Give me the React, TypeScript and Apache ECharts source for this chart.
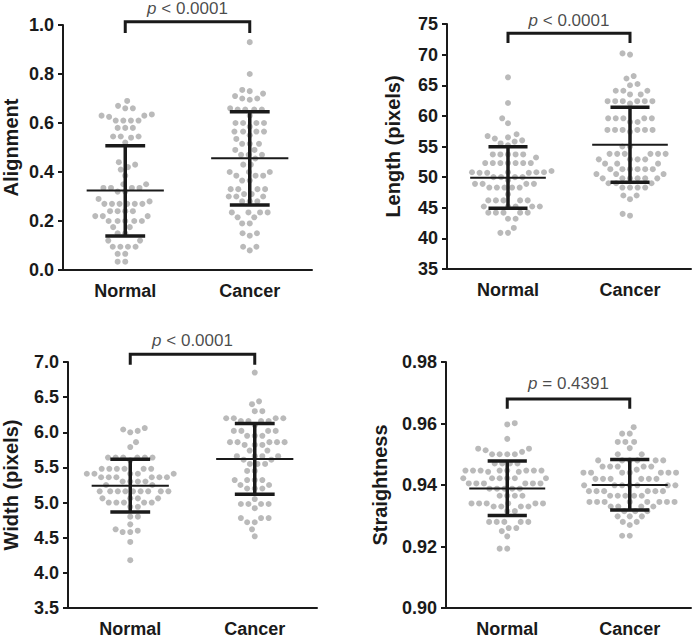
import React, { useEffect, useRef } from "react";
import * as echarts from "echarts";

const categories = ["Normal", "Cancer"];

// Panel 1: Alignment
const alignNormal = [0.69, 0.67, 0.66, 0.66, 0.635, 0.63, 0.625, 0.63, 0.61, 0.61, 0.61, 0.61, 0.58, 0.58, 0.58, 0.545, 0.545, 0.545, 0.54, 0.52, 0.44, 0.43, 0.42, 0.41, 0.385, 0.35, 0.35, 0.335, 0.335, 0.335, 0.335, 0.32, 0.32, 0.29, 0.28, 0.27, 0.27, 0.27, 0.27, 0.27, 0.27, 0.24, 0.24, 0.24, 0.24, 0.22, 0.22, 0.22, 0.2, 0.2, 0.2, 0.2, 0.2, 0.175, 0.175, 0.15, 0.15, 0.12, 0.12, 0.095, 0.095, 0.095, 0.095, 0.066, 0.066, 0.034, 0.034];
const alignCancer = [0.93, 0.8, 0.735, 0.73, 0.72, 0.71, 0.7, 0.7, 0.695, 0.66, 0.655, 0.655, 0.655, 0.655, 0.63, 0.6, 0.6, 0.6, 0.6, 0.585, 0.565, 0.565, 0.565, 0.565, 0.55, 0.535, 0.515, 0.515, 0.515, 0.49, 0.49, 0.47, 0.47, 0.47, 0.455, 0.43, 0.43, 0.4, 0.4, 0.4, 0.385, 0.385, 0.385, 0.365, 0.365, 0.33, 0.33, 0.33, 0.33, 0.31, 0.31, 0.3, 0.3, 0.3, 0.28, 0.28, 0.28, 0.235, 0.235, 0.235, 0.235, 0.215, 0.215, 0.19, 0.19, 0.15, 0.15, 0.14, 0.095, 0.095, 0.08];
const alignStats = [[0.324, 0.139, 0.507], [0.456, 0.265, 0.646]]; // mean, mean-SD, mean+SD

// Panel 2: Length (pixels)
const lengthNormal = [66.3, 62.1, 59.6, 58.8, 57.0, 56.7, 56.5, 56.3, 56.0, 55.8, 55.5, 55.2, 53.7, 53.7, 53.7, 53.7, 53.7, 53.2, 52.3, 52.3, 52.3, 52.3, 52.3, 52.3, 52.3, 51.0, 50.8, 50.8, 50.8, 50.8, 50.7, 50.7, 50.7, 50.0, 50.0, 50.0, 50.0, 49.5, 48.9, 48.9, 48.9, 48.9, 48.3, 48.3, 48.3, 48.3, 48.3, 47.2, 46.2, 46.2, 46.2, 46.2, 46.2, 45.2, 45.2, 45.2, 45.2, 45.2, 44.2, 44.2, 44.2, 44.2, 44.2, 43.2, 43.2, 41.7, 40.9, 40.9];
const lengthCancer = [70.2, 70.0, 66.5, 66.1, 65.2, 65.0, 64.1, 64.1, 64.1, 63.5, 63.5, 62.4, 62.4, 62.4, 62.4, 62.4, 62.4, 62.0, 59.6, 59.6, 59.6, 59.6, 59.6, 59.0, 59.0, 57.7, 57.7, 57.7, 57.7, 57.7, 57.7, 57.4, 55.0, 55.0, 53.8, 53.8, 53.8, 53.8, 53.8, 53.8, 52.9, 52.9, 52.9, 52.9, 52.2, 52.2, 52.2, 51.3, 51.3, 51.3, 51.3, 51.3, 51.3, 50.5, 50.5, 50.5, 49.8, 49.8, 49.8, 49.8, 49.8, 49.8, 49.0, 49.0, 49.0, 48.3, 48.3, 48.3, 48.3, 47.0, 47.0, 46.4, 44.0, 43.7];
const lengthStats = [[49.9, 44.9, 54.95], [55.3, 49.15, 61.4]];

// Panel 3: Width (pixels)
const widthNormal = [6.06, 6.04, 6.02, 6.0, 5.86, 5.79, 5.64, 5.64, 5.64, 5.64, 5.64, 5.64, 5.6, 5.48, 5.48, 5.48, 5.48, 5.48, 5.48, 5.41, 5.41, 5.41, 5.41, 5.41, 5.36, 5.36, 5.36, 5.36, 5.36, 5.36, 5.3, 5.3, 5.3, 5.3, 5.25, 5.25, 5.16, 5.16, 5.16, 5.16, 5.16, 5.16, 5.16, 5.16, 5.16, 5.06, 5.06, 5.06, 5.06, 5.0, 5.0, 5.0, 5.0, 5.0, 4.94, 4.94, 4.8, 4.8, 4.69, 4.58, 4.58, 4.6, 4.62, 4.44, 4.18];
const widthCancer = [6.85, 6.44, 6.4, 6.3, 6.3, 6.2, 6.2, 6.2, 6.2, 6.16, 6.16, 6.16, 6.16, 6.1, 6.02, 6.02, 6.02, 6.02, 5.95, 5.95, 5.95, 5.86, 5.86, 5.86, 5.86, 5.86, 5.82, 5.82, 5.82, 5.74, 5.74, 5.66, 5.66, 5.66, 5.66, 5.61, 5.61, 5.55, 5.55, 5.55, 5.45, 5.45, 5.32, 5.32, 5.32, 5.32, 5.25, 5.25, 5.2, 5.2, 5.2, 5.05, 4.98, 4.98, 4.98, 4.98, 4.92, 4.78, 4.78, 4.78, 4.72, 4.72, 4.62, 4.52];
const widthStats = [[5.24, 4.865, 5.615], [5.62, 5.12, 6.125]];

// Panel 4: Straightness
const straightNormal = [0.9601, 0.9597, 0.955, 0.9518, 0.9518, 0.9513, 0.9508, 0.95, 0.95, 0.95, 0.95, 0.947, 0.947, 0.947, 0.947, 0.9447, 0.9447, 0.9447, 0.9447, 0.9447, 0.9447, 0.9447, 0.9447, 0.9443, 0.9443, 0.9422, 0.9422, 0.9422, 0.9422, 0.9422, 0.9422, 0.9405, 0.9405, 0.9405, 0.9405, 0.9405, 0.9405, 0.9388, 0.9388, 0.9388, 0.9388, 0.9388, 0.9365, 0.9365, 0.9365, 0.9365, 0.934, 0.934, 0.934, 0.934, 0.934, 0.934, 0.933, 0.933, 0.933, 0.933, 0.9315, 0.9315, 0.928, 0.928, 0.928, 0.928, 0.928, 0.926, 0.926, 0.925, 0.9233, 0.9193, 0.9193];
const straightCancer = [0.9588, 0.9567, 0.9567, 0.954, 0.954, 0.954, 0.952, 0.95, 0.95, 0.948, 0.948, 0.948, 0.948, 0.948, 0.948, 0.946, 0.946, 0.946, 0.946, 0.946, 0.945, 0.944, 0.944, 0.944, 0.944, 0.944, 0.944, 0.944, 0.942, 0.942, 0.942, 0.942, 0.942, 0.942, 0.9399, 0.9399, 0.9399, 0.9399, 0.9399, 0.9399, 0.9399, 0.938, 0.938, 0.938, 0.938, 0.938, 0.938, 0.9365, 0.9365, 0.9365, 0.9365, 0.9365, 0.9345, 0.9345, 0.9345, 0.9345, 0.9345, 0.9345, 0.9345, 0.9345, 0.933, 0.933, 0.933, 0.933, 0.9315, 0.9315, 0.9315, 0.9298, 0.9298, 0.9298, 0.928, 0.928, 0.927, 0.9235, 0.9235];
const straightStats = [[0.9389, 0.9301, 0.9478], [0.940, 0.9319, 0.9483]];

const axisNames = ["Alignment", "Length (pixels)", "Width (pixels)", "Straightness"];
const yMins = [0, 35, 3.5, 0.9];
const yMaxs = [1.0, 75, 7.0, 0.98];
const yIntervals = [0.2, 5, 0.5, 0.02];
const yDecimals = [1, 0, 1, 2];
const pLabels = ["< 0.0001", "< 0.0001", "< 0.0001", "= 0.4391"];
// bracket: [low end, top], label y
const bracketLow = [0.967, 71.9, 6.96, 0.9648];
const bracketTop = [1.013, 73.5, 7.11, 0.968];
const pLabelY = [1.066, 75.5, 7.30, 0.9729];

const panels = [
  { normal: alignNormal, cancer: alignCancer, stats: alignStats },
  { normal: lengthNormal, cancer: lengthCancer, stats: lengthStats },
  { normal: widthNormal, cancer: widthCancer, stats: widthStats },
  { normal: straightNormal, cancer: straightCancer, stats: straightStats },
];

const grids = [
  { left: 63, top: 25, width: 249, height: 245 },
  { left: 447, top: 24, width: 244, height: 245 },
  { left: 68, top: 362, width: 249, height: 248 },
  { left: 446, top: 362, width: 245, height: 248 },
];
const nameGaps = [42, 44, 47, 56];

const FONT = "'Liberation Sans', Arial, sans-serif";
const INK = "#1a1a1a";
const DOT = "#a9a9a9";

// beeswarm layout in pixel space, returns x offsets in px
function swarm(values: number[], pxPerY: number, d: number): number[] {
  const order = values.map((_, i) => i).sort((a, b) => values[a] - values[b]);
  const placed: { x: number; y: number }[] = [];
  const xs = new Array(values.length).fill(0);
  let side = 1;
  for (const i of order) {
    const y = values[i] * pxPerY;
    const near = placed.filter((p) => Math.abs(p.y - y) < d);
    const cands = [0];
    for (const p of near) {
      const dx = Math.sqrt(d * d - (p.y - y) * (p.y - y));
      cands.push(p.x + dx, p.x - dx);
    }
    cands.sort((a, b) => Math.abs(a) - Math.abs(b) || (b - a) * side);
    let chosen = 0;
    for (const c of cands) {
      if (near.every((p) => (p.x - c) ** 2 + (p.y - y) ** 2 >= d * d - 1e-6)) {
        chosen = c;
        break;
      }
    }
    side = -side;
    xs[i] = chosen;
    placed.push({ x: chosen, y });
  }
  return xs;
}

function buildOption() {
  const xAxis: any[] = [];
  const yAxis: any[] = [];
  const series: any[] = [];
  panels.forEach((pn, k) => {
    const g = grids[k];
    xAxis.push({
      type: "category",
      gridIndex: k,
      data: categories,
      axisLine: { onZero: false, lineStyle: { color: INK, width: 2 } },
      axisTick: { alignWithLabel: true, length: 5, lineStyle: { color: INK, width: 2 } },
      axisLabel: { color: INK, fontSize: 18, fontWeight: "bold", fontFamily: FONT, margin: 12 },
      splitLine: { show: false },
    });
    xAxis.push({ type: "value", gridIndex: k, min: -0.5, max: 1.5, show: false });
    const dec = yDecimals[k];
    yAxis.push({
      type: "value",
      gridIndex: k,
      min: yMins[k],
      max: yMaxs[k],
      interval: yIntervals[k],
      name: axisNames[k],
      nameLocation: "middle",
      nameGap: nameGaps[k],
      nameTextStyle: { color: INK, fontSize: 20, fontWeight: "bold", fontFamily: FONT },
      axisLine: { show: true, onZero: false, lineStyle: { color: INK, width: 2 } },
      axisTick: { show: true, length: 5, lineStyle: { color: INK, width: 2 } },
      axisLabel: {
        color: INK,
        fontSize: 18,
        fontWeight: "bold",
        fontFamily: FONT,
        margin: 9,
        formatter: (v: number) => v.toFixed(dec),
      },
      splitLine: { show: false },
    });
    const pxPerY = g.height / (yMaxs[k] - yMins[k]);
    const unitsPerPx = 2 / g.width;
    [pn.normal, pn.cancer].forEach((vals, ci) => {
      const offs = swarm(vals, pxPerY, 7.6);
      series.push({
        type: "scatter",
        xAxisIndex: 2 * k + 1,
        yAxisIndex: k,
        symbol: "circle",
        symbolSize: 6,
        itemStyle: { color: DOT },
        z: 2,
        silent: true,
        data: vals.map((v, i) => [ci + offs[i] * unitsPerPx, v]),
      });
    });
    series.push({
      type: "custom",
      xAxisIndex: 2 * k + 1,
      yAxisIndex: k,
      z: 4,
      silent: true,
      encode: { x: 0, y: 1 },
      data: pn.stats.map((s, ci) => [ci, s[0], s[1], s[2]]),
      renderItem: (params: any, api: any) => {
        const x = api.value(0);
        const m = api.value(1);
        const lo = api.value(2);
        const hi = api.value(3);
        const mL = api.coord([x - 0.31, m]);
        const mR = api.coord([x + 0.31, m]);
        const pl = api.coord([x, lo]);
        const ph = api.coord([x, hi]);
        const cl = api.coord([x - 0.16, lo]);
        const cr = api.coord([x + 0.16, lo]);
        const tl = api.coord([x - 0.16, hi]);
        const tr = api.coord([x + 0.16, hi]);
        const st = { stroke: INK, lineWidth: 3.5 };
        return {
          type: "group",
          children: [
            { type: "line", shape: { x1: pl[0], y1: pl[1], x2: ph[0], y2: ph[1] }, style: st },
            { type: "line", shape: { x1: cl[0], y1: cl[1], x2: cr[0], y2: cr[1] }, style: st },
            { type: "line", shape: { x1: tl[0], y1: tl[1], x2: tr[0], y2: tr[1] }, style: st },
            { type: "line", shape: { x1: mL[0], y1: mL[1], x2: mR[0], y2: mR[1] }, style: { stroke: INK, lineWidth: 2 } },
          ],
        };
      },
    });
    series.push({
      type: "line",
      xAxisIndex: 2 * k + 1,
      yAxisIndex: k,
      symbol: "none",
      clip: false,
      silent: true,
      z: 5,
      lineStyle: { color: INK, width: 3, join: "miter", cap: "butt" },
      data: [
        [0, bracketLow[k]],
        [0, bracketTop[k]],
        [1, bracketTop[k]],
        [1, bracketLow[k]],
      ],
    });
    series.push({
      type: "scatter",
      xAxisIndex: 2 * k + 1,
      yAxisIndex: k,
      symbolSize: 0,
      clip: false,
      silent: true,
      z: 6,
      data: [[0.5, pLabelY[k]]],
      label: {
        show: true,
        position: "inside",
        formatter: "{i|p} " + pLabels[k],
        color: INK,
        fontSize: 17,
        fontFamily: FONT,
        rich: { i: { fontStyle: "italic", fontSize: 17, fontFamily: FONT, color: INK } },
      },
    });
  });
  return {
    animation: false,
    backgroundColor: "#ffffff",
    grid: grids.map((g) => ({ ...g, containLabel: false })),
    xAxis,
    yAxis,
    series,
  };
}

export default function App() {
  const ref = useRef<HTMLDivElement>(null);
  useEffect(() => {
    if (!ref.current) return;
    const chart = echarts.init(ref.current, undefined, { renderer: "svg" });
    chart.setOption(buildOption() as any);
    return () => chart.dispose();
  }, []);
  return (
    <div
      ref={ref}
      style={{ position: "fixed", left: 0, top: 0, width: 696, height: 638, background: "#fff" }}
    />
  );
}
